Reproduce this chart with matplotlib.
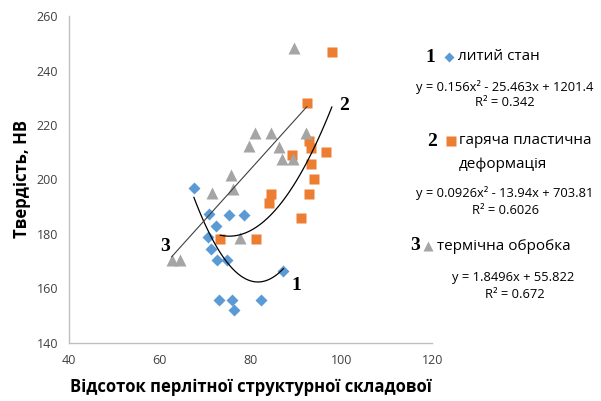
import numpy as np
import matplotlib.pyplot as plt

# blue diamonds: cast state
cast_x = [67.5, 70.9, 75.3, 78.6, 72.4, 70.5, 71.3, 72.7, 74.7, 87.2, 73.1, 75.9, 82.3, 76.4]
cast_y = [197, 187.2, 187, 187, 182.9, 178.9, 174.6, 170.3, 170.3, 166.4, 155.8, 155.8, 155.8, 152.2]

# orange squares: hot plastic deformation
hot_x = [97.9, 92.4, 92.9, 93.2, 89.2, 96.6, 93.2, 94.0, 84.6, 84.0, 92.9, 91.2, 73.3, 81.1]
hot_y = [246.7, 227.9, 214.1, 211.4, 208.8, 209.9, 205.8, 200.3, 194.6, 191.5, 194.8, 185.7, 178, 178]

# gray triangles: heat treatment
heat_x = [89.6, 81.0, 84.6, 92.1, 79.6, 86.3, 87.0, 89.4, 75.6, 76.2, 71.4, 77.7, 62.6, 64.4]
heat_y = [248.1, 216.9, 216.9, 216.9, 212.3, 212, 207.4, 207.4, 201.5, 196.6, 195, 178.5, 170.3, 170.3]

# trendline coefficients as printed on the chart
cast_coef = [0.156, -25.463, 1201.4]
hot_coef = [0.0926, -13.94, 703.81]
heat_coef = [1.8496, 55.822]

BLUE = "#5B9BD5"
ORANGE = "#ED7D31"
GRAY = "#A5A5A5"
SERIF = "Liberation Serif"
SANS = "Open Sans"

fig = plt.figure(figsize=(6.01, 4.01), dpi=100)
ax = fig.add_axes([0.115, 0.145, 0.604, 0.815])

ax.plot(cast_x, cast_y, "D", color=BLUE, ms=6, mec="none", zorder=3)
ax.plot(hot_x, hot_y, "s", color=ORANGE, ms=7.5, mec="none", zorder=3)
ax.plot(heat_x, heat_y, "^", color=GRAY, ms=9, mec="none", zorder=3)

xs = np.linspace(min(cast_x), max(cast_x), 100)
ax.plot(xs, np.polyval(cast_coef, xs), color="black", lw=0.9, zorder=4)
xs = np.linspace(min(hot_x), max(hot_x), 100)
ax.plot(xs, np.polyval(hot_coef, xs), color="black", lw=0.9, zorder=4)
xs = np.linspace(min(heat_x), max(hot_x[1], heat_x[3]), 100)
ax.plot(xs, np.polyval(heat_coef, xs), color="#404040", lw=0.8, zorder=4)

ax.set_xlim(40, 120)
ax.set_ylim(140, 260)
ax.set_xticks(range(40, 121, 20))
ax.set_yticks(range(140, 261, 20))
for s in ("top", "right"):
    ax.spines[s].set_visible(False)
for s in ("left", "bottom"):
    ax.spines[s].set_color("#BFBFBF")
    ax.spines[s].set_linewidth(1.0)
ax.tick_params(length=0, labelsize=9, colors="#404040", pad=8)
for lab in ax.get_xticklabels() + ax.get_yticklabels():
    lab.set_family(SANS)

ax.set_xlabel("Відсоток перлітної структурної складової", fontsize=12,
              fontweight="bold", family=SANS, labelpad=8)
ax.set_ylabel("Твердість, НВ", fontsize=12, fontweight="bold", family=SANS,
              labelpad=4)

# curve numbers
ax.text(90.1, 161, "1", fontsize=14, fontweight="bold", family=SERIF, ha="center", va="center")
ax.text(100.6, 227, "2", fontsize=14, fontweight="bold", family=SERIF, ha="center", va="center")
ax.text(61.1, 175.5, "3", fontsize=14, fontweight="bold", family=SERIF, ha="center", va="center")

# legend block on the right, in pixel coords
def px(x, y):
    return x / 601, 1 - y / 401

def t(x, y, s, **kw):
    fig.text(*px(x, y), s, va="center", **kw)

LEG = 11
EQ = 9.3

t(430, 57, "1", fontsize=14, fontweight="bold", family=SERIF, ha="center")
fig.lines.append(plt.Line2D(*zip(px(449, 57)), marker="D", ms=5.5, color=BLUE,
                            mec="none", transform=fig.transFigure))
t(458, 57, "литий стан", fontsize=LEG, family=SANS, ha="left")
t(505, 87, "y = 0.156x² - 25.463x + 1201.4", fontsize=EQ, family=SANS, ha="center")
t(505, 103, "R² = 0.342", fontsize=EQ, family=SANS, ha="center")

t(432, 141, "2", fontsize=14, fontweight="bold", family=SERIF, ha="center")
fig.lines.append(plt.Line2D(*zip(px(451, 141)), marker="s", ms=7, color=ORANGE,
                            mec="none", transform=fig.transFigure))
t(459, 141, "гаряча пластична", fontsize=LEG, family=SANS, ha="left")
t(459, 164, "деформація", fontsize=LEG, family=SANS, ha="left")
t(505, 193, "y = 0.0926x² - 13.94x + 703.81", fontsize=EQ, family=SANS, ha="center")
t(505, 210, "R² = 0.6026", fontsize=EQ, family=SANS, ha="center")

t(415, 246, "3", fontsize=14, fontweight="bold", family=SERIF, ha="center")
fig.lines.append(plt.Line2D(*zip(px(428, 246)), marker="^", ms=7.5, color=GRAY,
                            mec="none", transform=fig.transFigure))
t(437, 246, "термічна обробка", fontsize=LEG, family=SANS, ha="left")
t(513, 278, "y = 1.8496x + 55.822", fontsize=EQ, family=SANS, ha="center")
t(515, 294, "R² = 0.672", fontsize=EQ, family=SANS, ha="center")

fig.savefig("out.png", dpi=100)
